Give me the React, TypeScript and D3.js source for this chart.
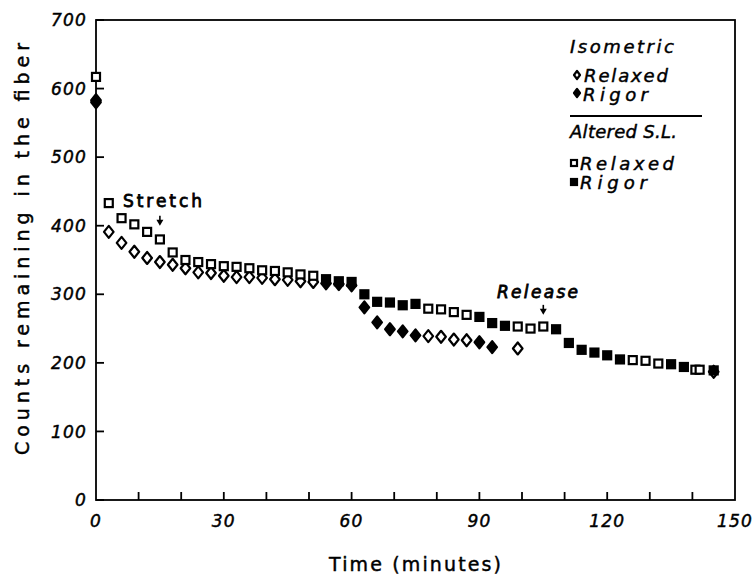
import React from 'react';
import * as d3 from 'd3';

// [minutes, counts]
const isoRelaxed: [number, number][] = [
  [0, 583], [3, 391], [6, 375], [9, 362], [12, 353], [15, 347], [18, 343], [21, 338],
  [24, 332], [27, 331], [30, 327], [33, 325], [36, 325], [39, 324], [42, 322], [45, 321],
  [48, 319], [51, 318], [78, 239], [81, 238], [84, 234], [87, 233], [99, 221], [145, 187],
];
const isoRigor: [number, number][] = [
  [0, 580], [54, 316], [57, 315], [60, 313], [63, 281], [66, 259], [69, 249], [72, 246],
  [75, 240], [90, 230], [93, 223],
];
const altRelaxed: [number, number][] = [
  [0, 617], [3, 433], [6, 411], [9, 402], [12, 391], [15, 380], [18, 361], [21, 350],
  [24, 347], [27, 344], [30, 341], [33, 340], [36, 338], [39, 335], [42, 334], [45, 332],
  [48, 329], [51, 327], [78, 279], [81, 278], [84, 274], [87, 270], [99, 253], [102, 250],
  [105, 253], [126, 204], [129, 203], [132, 199], [140.7, 190], [141.7, 190],
];
const altRigor: [number, number][] = [
  [54, 322], [57, 319], [60, 318], [63, 300], [66, 289], [69, 288], [72, 284], [75, 286],
  [90, 267], [93, 258], [96, 254], [108, 249], [111, 229], [114, 219], [117, 215],
  [120, 211], [123, 205], [135, 198], [138, 194], [145, 189],
];

const xTickLabels = [0, 30, 60, 90, 120, 150];
const xMinorTicks = d3.range(10, 150, 10);
const yTickLabels = [0, 100, 200, 300, 400, 500, 600, 700];

const arrows: [number, number][] = [[15, 400], [105, 270]];

const W = 752;
const H = 579;
const x = d3.scaleLinear().domain([0, 150]).range([96, 735]);
const y = d3.scaleLinear().domain([0, 700]).range([500, 20]);

const FONT = '"DejaVu Sans", sans-serif';
// plotter pen look: a thin outline thickens the glyphs a little
const pen = { stroke: '#000', strokeWidth: 0.45 };

const diamond = (cx: number, cy: number, w = 4.8, h = 6) =>
  `M${cx},${cy - h}L${cx + w},${cy}L${cx},${cy + h}L${cx - w},${cy}Z`;

function Square({ cx, cy, filled, s = 8 }: { cx: number; cy: number; filled: boolean; s?: number }) {
  return (
    <rect x={cx - s / 2} y={cy - s / 2} width={s} height={s}
      fill={filled ? '#000' : '#fff'} stroke="#000" strokeWidth={2.2} />
  );
}

function Diamond({ cx, cy, filled, w, h }: { cx: number; cy: number; filled: boolean; w?: number; h?: number }) {
  return <path d={diamond(cx, cy, w, h)} fill={filled ? '#000' : '#fff'} stroke="#000" strokeWidth={2.2} strokeLinejoin="round" />;
}

export default function App() {
  return (
    <svg width={W} height={H} style={{ position: 'absolute', left: 0, top: 0, display: 'block', background: '#fff' }}>
      <rect x={0} y={0} width={W} height={H} fill="#fff" />
      {/* frame */}
      <rect x={x(0)} y={y(700)} width={x(150) - x(0)} height={y(0) - y(700)}
        fill="none" stroke="#000" strokeWidth={1.8} />

      {/* y axis ticks */}
      {yTickLabels.map((v) => (
        <g key={'y' + v}>
          <line x1={x(0)} x2={x(0) + 8} y1={y(v)} y2={y(v)} stroke="#000" strokeWidth={1.8} />
          <text x={x(0) - 9} y={y(v)} dy="0.36em" textAnchor="end" fontFamily={FONT}
            fontStyle="italic" fontSize={17} letterSpacing={1.2} {...pen}>{v}</text>
        </g>
      ))}

      {/* x axis ticks */}
      {xMinorTicks.map((t) => (
        <line key={'xm' + t} x1={x(t)} x2={x(t)} y1={y(0)} y2={y(0) - 8} stroke="#000" strokeWidth={1.8} />
      ))}
      {xTickLabels.map((t) => (
        <text key={'x' + t} x={x(t)} y={y(0) + 21} dy="0.36em" textAnchor="middle" fontFamily={FONT}
          fontStyle="italic" fontSize={17} letterSpacing={1.2} {...pen}>{t}</text>
      ))}

      {/* axis titles */}
      <text x={415} y={571} textAnchor="middle" fontFamily={FONT} fontSize={19}
        textLength={172} lengthAdjust="spacing" {...pen}>Time (minutes)</text>
      <text transform="translate(29,249) rotate(-90)" textAnchor="middle" fontFamily={FONT} fontSize={19}
        textLength={412} lengthAdjust="spacing" {...pen}>Counts remaining in the fiber</text>

      {/* data */}
      {isoRelaxed.map(([t, v], i) => (
        <Diamond key={'ir' + i} cx={x(t)} cy={y(v)} filled={false} />
      ))}
      {isoRigor.map(([t, v], i) => (
        <Diamond key={'ig' + i} cx={x(t)} cy={y(v)} filled />
      ))}
      {altRelaxed.map(([t, v], i) => (
        <Square key={'ar' + i} cx={x(t)} cy={y(v)} filled={false} />
      ))}
      {altRigor.map(([t, v], i) => (
        <Square key={'ag' + i} cx={x(t)} cy={y(v)} filled />
      ))}

      {/* annotations */}
      {arrows.map(([t, v], i) => (
        <g key={'a' + i}>
          <line x1={x(t)} x2={x(t)} y1={y(v) - 10} y2={y(v) - 4} stroke="#000" strokeWidth={1.6} />
          <path d={`M${x(t) - 3.5},${y(v) - 6}L${x(t) + 3.5},${y(v) - 6}L${x(t)},${y(v)}Z`} fill="#000" />
        </g>
      ))}
      <text x={123} y={207} fontFamily={FONT} fontSize={17}
        textLength={79} lengthAdjust="spacing" stroke="#000" strokeWidth={0.8}>Stretch</text>
      <text x={497} y={298} fontFamily={FONT} fontStyle="italic" fontSize={17}
        textLength={81} lengthAdjust="spacing" stroke="#000" strokeWidth={0.8}>Release</text>

      {/* legend */}
      <g fontFamily={FONT} fontStyle="italic" fontSize={18} {...pen}>
        <text x={570} y={53} textLength={104} lengthAdjust="spacing">Isometric</text>
        <Diamond cx={577} cy={75} filled={false} w={3} h={4} />
        <text x={584} y={82} textLength={84} lengthAdjust="spacing">Relaxed</text>
        <Diamond cx={577} cy={93} filled w={3} h={4} />
        <text x={583} y={101} textLength={65} lengthAdjust="spacing">Rigor</text>
        <line x1={570} x2={702} y1={116} y2={116} stroke="#000" strokeWidth={1.8} />
        <text x={570} y={138} textLength={107} lengthAdjust="spacing">Altered S.L.</text>
        <Square cx={574} cy={163} filled={false} s={6} />
        <text x={580} y={170} textLength={94} lengthAdjust="spacing">Relaxed</text>
        <Square cx={574} cy={182} filled s={6} />
        <text x={580} y={189} textLength={67} lengthAdjust="spacing">Rigor</text>
      </g>
    </svg>
  );
}
